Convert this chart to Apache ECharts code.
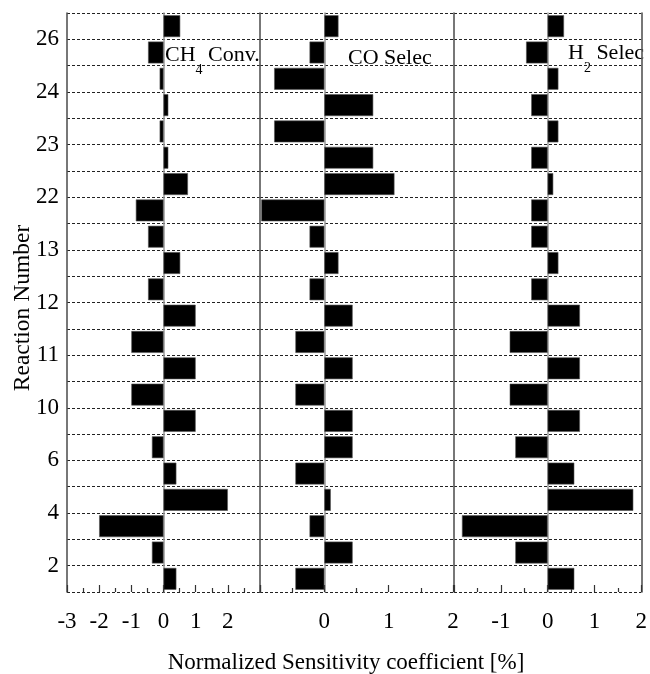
<!DOCTYPE html>
<html>
<head>
<meta charset="utf-8">
<script src="https://cdn.jsdelivr.net/npm/echarts@6/dist/echarts.min.js"></script>
<style>
html,body{margin:0;padding:0;background:#fff;}
#chart{width:650px;height:674px;}
</style>
</head>
<body>
<div id="chart"></div>
<script>
// Reaction labels (bottom to top); each reaction has two bars: lower then upper
const reactions = ['2','4','6','10','11','12','13','22','23','24','26'];

// CH4 conversion sensitivity [%]
const ch4Lower = [0.40, -2.00, 0.40, 1.00, 1.00, 1.00, 0.52, -0.86, 0.15, 0.15, -0.48];
const ch4Upper = [-0.36, 2.00, -0.36, -1.00, -1.00, -0.48, -0.48, 0.76, -0.12, -0.12, 0.52];

// CO selectivity sensitivity [%]
const coLower = [-0.45, -0.23, -0.45, 0.44, 0.44, 0.44, 0.22, -0.98, 0.76, 0.76, -0.23];
const coUpper = [0.44, 0.10, 0.44, -0.45, -0.45, -0.23, -0.23, 1.09, -0.78, -0.78, 0.22];

// H2 selectivity sensitivity [%]
const h2Lower = [0.57, -1.83, 0.57, 0.69, 0.69, 0.69, 0.23, -0.35, -0.35, -0.35, -0.46];
const h2Upper = [-0.69, 1.83, -0.69, -0.81, -0.81, -0.35, -0.35, 0.12, 0.23, 0.23, 0.35];

// x tick labels shown for each panel
const ch4Ticks = ['-3','-2','-1','0','1','2'];
const coTicks = ['0','1','2'];
const h2Ticks = ['-1','0','1','2'];

const panelTitles = ['CH{s|4} Conv.', 'CO Selec', 'H{s|2} Selec'];
const xTitle = 'Normalized Sensitivity coefficient [%]';
const yTitle = 'Reaction Number';

// build categories and interleaved values
const cats = [];
function interleave(lo, up) {
  const out = [];
  for (let i = 0; i < lo.length; i++) { out.push(lo[i]); out.push(up[i]); }
  return out;
}
reactions.forEach(r => { cats.push(r + 'a'); cats.push(r + 'b'); });

const FONT = 'Liberation Serif, Times New Roman, serif';
const panels = [
  { vals: interleave(ch4Lower, ch4Upper), min: -3, max: 3, ticks: ch4Ticks, left: 67 },
  { vals: interleave(coLower, coUpper), min: -1, max: 2, ticks: coTicks, left: 260 },
  { vals: interleave(h2Lower, h2Upper), min: -2, max: 2, ticks: h2Ticks, left: 454 }
];

const grid = [], xAxis = [], yAxis = [], series = [];
panels.forEach((p, i) => {
  grid.push({ left: p.left, width: 193, top: 13, height: 579, containLabel: false });
  xAxis.push({
    gridIndex: i, type: 'value', min: p.min, max: p.max, interval: 1,
    axisLine: { show: false },
    axisTick: { show: true, inside: true, length: 7, lineStyle: { color: '#333', width: 1.2 } },
    minorTick: { show: true, splitNumber: 2, length: 4, lineStyle: { color: '#333', width: 1.2 } },
    splitLine: { show: false },
    axisLabel: {
      margin: 18, fontSize: 23, fontFamily: FONT, color: '#000',
      formatter: v => (p.ticks.indexOf(String(v)) >= 0 ? String(v) : '')
    }
  });
  // category axis for bars (zero line)
  const catIdx = yAxis.length;
  yAxis.push({
    gridIndex: i, type: 'category', data: cats,
    axisLabel: { show: false }, axisTick: { show: false },
    axisLine: { show: true, onZero: true, lineStyle: { color: '#999', width: 1.5 } },
    splitLine: { show: false }
  });
  // value axis for reaction labels and dashed grid lines
  yAxis.push({
    gridIndex: i, type: 'value', min: 0, max: 22, interval: 1, position: 'left',
    axisLine: { show: true, onZero: false, lineStyle: { color: '#555', width: 1.6 } },
    axisTick: { show: false },
    splitLine: { show: true, lineStyle: { color: '#222', type: [3, 2], width: 1 } },
    axisLabel: {
      show: i === 0, margin: 8, fontSize: 23, fontFamily: FONT, color: '#000',
      formatter: v => (v % 2 === 1 ? reactions[(v - 1) / 2] : '')
    }
  });
  if (i === 2) {
    yAxis.push({
      gridIndex: i, type: 'value', min: 0, max: 22, interval: 1, position: 'right',
      axisLine: { show: true, onZero: false, lineStyle: { color: '#555', width: 1.6 } },
      axisTick: { show: false }, axisLabel: { show: false }, splitLine: { show: false }
    });
  }
  series.push({
    type: 'bar', xAxisIndex: i, yAxisIndex: catIdx, data: p.vals,
    barCategoryGap: '17%',
    itemStyle: { color: '#000', borderColor: '#555', borderWidth: 0.6 },
    silent: true
  });
});

const richStyle = { s: { fontSize: 14, fontFamily: FONT, fill: '#000', verticalAlign: 'bottom', lineHeight: 44 } };
function titleText(x, y, t) {
  return { type: 'text', x: x, y: y, style: { text: t, font: '22px ' + FONT, fill: '#000', verticalAlign: 'middle', lineHeight: 44, rich: richStyle } };
}
const graphic = [
  titleText(165, 55, panelTitles[0]),
  titleText(348, 58, panelTitles[1]),
  titleText(568, 53, panelTitles[2]),
  { type: 'text', x: 346, y: 663, style: { text: xTitle, font: '23px ' + FONT, fill: '#000', align: 'center', verticalAlign: 'middle' } },
  { type: 'text', x: 23, y: 308, rotation: Math.PI / 2, style: { text: yTitle, font: '23.5px ' + FONT, fill: '#000', align: 'center', verticalAlign: 'middle' } }
];

const chart = echarts.init(document.getElementById('chart'), null, { renderer: 'canvas' });
chart.setOption({
  animation: false,
  backgroundColor: '#fff',
  grid, xAxis, yAxis, series, graphic
});
</script>
</body>
</html>
